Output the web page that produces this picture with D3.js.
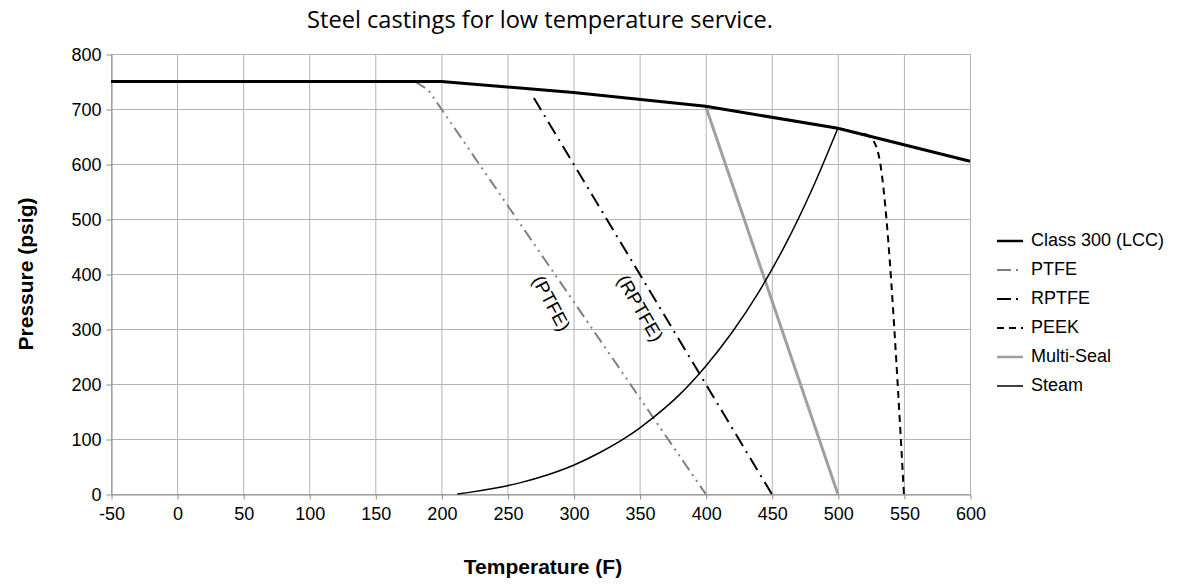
<!DOCTYPE html>
<html>
<head>
<meta charset="utf-8">
<script src="https://cdn.jsdelivr.net/npm/d3@7"></script>
<style>
  html, body { margin: 0; padding: 0; background: #fff; }
  svg { display: block; }
</style>
</head>
<body>
<svg id="chart" width="1178" height="586"></svg>
<script>
// ---- data ----
const xTicks = [-50, 0, 50, 100, 150, 200, 250, 300, 350, 400, 450, 500, 550, 600];
const yTicks = [0, 100, 200, 300, 400, 500, 600, 700, 800];

const class300T = [-50, 200, 300, 400, 500, 600];
const class300P = [750, 750, 730, 705, 665, 605];

const ptfeT = [180, 190, 200, 400];
const ptfeP = [750, 735, 700, 0];

const rptfeT = [270, 450];
const rptfeP = [720, 0];

const peekT = [520, 527, 531, 550];
const peekP = [655, 642, 615, 0];

const multiT = [400, 500];
const multiP = [705, 0];

const steamT = [212, 220, 240, 250, 260, 280, 300, 320, 340, 350, 360, 380, 400, 420, 440, 450, 460, 480, 500];
const steamP = [0, 2.5, 10.3, 15.1, 20.7, 34.5, 52.3, 75.4, 103.3, 119.9, 138.3, 180.2, 232.4, 294.0, 366.6, 407.9, 452.0, 551.3, 665.0];

const seriesNames = ["Class 300 (LCC)", "PTFE", "RPTFE", "PEEK", "Multi-Seal", "Steam"];

// ---- layout ----
const FONT = "Liberation Sans, Arial, sans-serif";
const svg = d3.select("#chart");
const x = d3.scaleLinear().domain([-50, 600]).range([111, 970]);
const y = d3.scaleLinear().domain([0, 800]).range([494, 54]);

const styles = [
  { T: class300T, P: class300P, color: "#000", width: 3, dash: null },
  { T: ptfeT, P: ptfeP, color: "#808080", width: 2, dash: "12,5,2,5,2,5" },
  { T: rptfeT, P: rptfeP, color: "#000", width: 2, dash: "14,6,2,6" },
  { T: peekT, P: peekP, color: "#000", width: 2, dash: "7,5" },
  { T: multiT, P: multiP, color: "#a0a0a0", width: 3, dash: null },
  { T: steamT, P: steamP, color: "#000", width: 1.5, dash: null }
];

// gridlines
const grid = svg.append("g");
grid.selectAll("line.v").data(xTicks).join("line")
  .attr("x1", d => x(d) + 0.5).attr("x2", d => x(d) + 0.5)
  .attr("y1", y(800)).attr("y2", y(0))
  .attr("stroke", "#b3b3b3").attr("stroke-width", 1);
grid.selectAll("line.h").data(yTicks).join("line")
  .attr("x1", x(-50)).attr("x2", x(600))
  .attr("y1", d => y(d) + 0.5).attr("y2", d => y(d) + 0.5)
  .attr("stroke", "#b3b3b3").attr("stroke-width", 1);

// axes
const fmt = d => String(d);
const xAxis = svg.append("g").attr("transform", `translate(0.5,${y(0) + 0.5})`)
  .call(d3.axisBottom(x).tickValues(xTicks).tickFormat(fmt).tickSize(5).tickSizeOuter(0).tickPadding(8));
const yAxis = svg.append("g").attr("transform", `translate(${x(-50) + 0.5},0.5)`)
  .call(d3.axisLeft(y).tickValues(yTicks).tickFormat(fmt).tickSize(5).tickSizeOuter(0).tickPadding(5));
[xAxis, yAxis].forEach(a => {
  a.select(".domain").attr("stroke", "#8c8c8c");
  a.selectAll(".tick line").attr("stroke", "#8c8c8c");
  a.selectAll(".tick text").attr("fill", "#000")
    .style("font-family", FONT).style("font-size", "18px");
});

// series lines
const plot = svg.append("g");
styles.forEach((s, i) => {
  const pts = s.T.map((t, j) => [t, s.P[j]]);
  const curve = (i === 5 || i === 3) ? d3.curveMonotoneX : d3.curveLinear;
  const line = d3.line().x(d => x(d[0])).y(d => y(d[1])).curve(curve);
  plot.append("path").datum(pts)
    .attr("d", line)
    .attr("fill", "none")
    .attr("stroke", s.color)
    .attr("stroke-width", s.width)
    .attr("stroke-dasharray", s.dash)
    .attr("stroke-linejoin", "round");
});
plot.select("path").raise();

// in-plot labels
const lab = svg.append("g").style("font-family", FONT).style("font-size", "18.5px");
lab.append("text").attr("transform", `translate(550,304) rotate(62)`)
  .attr("text-anchor", "middle").attr("dominant-baseline", "middle").text("(PTFE)");
lab.append("text").attr("transform", `translate(639,309) rotate(60)`)
  .attr("text-anchor", "middle").attr("dominant-baseline", "middle").text("(RPTFE)");

// title
const title = svg.append("text").attr("x", 540).attr("y", 28).attr("text-anchor", "middle")
  .style("font-family", "Open Sans, Noto Sans, sans-serif").style("font-size", "20px")
  .text("Steel castings for low temperature service.");
const tw = title.node().getComputedTextLength();
title.style("font-size", (20 * 466 / tw).toFixed(2) + "px");

// axis titles
svg.append("text").attr("x", 543).attr("y", 574).attr("text-anchor", "middle")
  .style("font-family", FONT).style("font-size", "21px").style("font-weight", "bold")
  .text("Temperature (F)");
svg.append("text").attr("transform", "translate(33,274) rotate(-90)").attr("text-anchor", "middle")
  .style("font-family", FONT).style("font-size", "21px").style("font-weight", "bold")
  .text("Pressure (psig)");

// legend
const leg = svg.append("g");
seriesNames.forEach((name, i) => {
  const s = styles[i];
  const yy = 241 + i * 29;
  leg.append("line").attr("x1", 997).attr("x2", 1023).attr("y1", yy).attr("y2", yy)
    .attr("stroke", s.color).attr("stroke-width", Math.min(s.width, 2.5))
    .attr("stroke-dasharray", i === 1 || i === 2 ? "14,5,2,5" : (i === 3 ? "7,5" : null));
  leg.append("text").attr("x", 1031).attr("y", yy).attr("dominant-baseline", "middle")
    .style("font-family", FONT).style("font-size", "18px")
    .text(name);
});
</script>
</body>
</html>
